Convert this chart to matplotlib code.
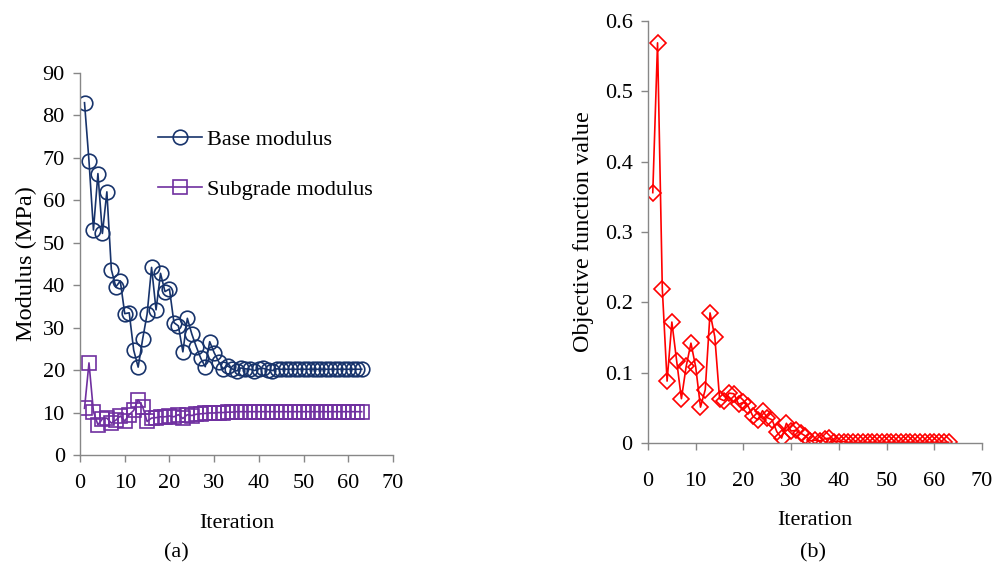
import numpy as np
import matplotlib.pyplot as plt

plt.rcParams['font.family'] = ['Liberation Serif', 'DejaVu Serif']
plt.rcParams['font.size'] = 16

# iterations 1..63
iteration = np.arange(1, 64)

base_modulus = [
    83.0, 69.3, 53.0, 66.3, 52.2, 62.0, 43.7, 39.6, 41.0, 33.3,
    33.5, 24.7, 20.7, 27.3, 33.2, 44.2, 34.2, 42.8, 38.5, 39.1,
    31.2, 30.4, 24.3, 32.2, 28.5, 25.5, 22.8, 20.8, 26.7, 24.1,
    22.0, 20.3, 21.0, 20.3, 19.8, 20.5, 20.3, 20.2, 19.9, 20.3,
    20.4, 20.1, 19.9, 20.3, 20.2, 20.2, 20.2, 20.2, 20.2, 20.2,
    20.2, 20.2, 20.2, 20.2, 20.2, 20.2, 20.2, 20.2, 20.2, 20.2,
    20.2, 20.2, 20.2,
]

subgrade_modulus = [
    11.0, 21.7, 10.2, 7.1, 8.5, 8.7, 7.5, 8.2, 9.2, 8.0,
    9.5, 10.5, 13.0, 11.4, 7.9, 8.7, 8.8, 9.0, 9.0, 9.2,
    9.0, 9.5, 8.6, 9.5, 9.3, 9.6, 9.7, 9.8, 9.9, 9.9,
    10.0, 10.0, 10.1, 10.1, 10.2, 10.2, 10.2, 10.2, 10.2, 10.2,
    10.2, 10.2, 10.2, 10.2, 10.2, 10.2, 10.2, 10.2, 10.2, 10.2,
    10.2, 10.2, 10.2, 10.2, 10.2, 10.2, 10.2, 10.2, 10.2, 10.2,
    10.2, 10.2, 10.2,
]

objective = [
    0.356, 0.569, 0.219, 0.088, 0.172, 0.117, 0.063, 0.109, 0.142, 0.108,
    0.051, 0.076, 0.185, 0.151, 0.063, 0.060, 0.071, 0.070, 0.055, 0.058,
    0.052, 0.038, 0.033, 0.046, 0.036, 0.033, 0.016, 0.007, 0.028, 0.017,
    0.018, 0.014, 0.010, 0.003, 0.004, 0.003, 0.006, 0.007, 0.002, 0.002,
    0.002, 0.001, 0.001, 0.001, 0.001, 0.001, 0.001, 0.001, 0.001, 0.001,
    0.001, 0.001, 0.001, 0.001, 0.001, 0.001, 0.001, 0.001, 0.001, 0.001,
    0.001, 0.001, 0.001,
]

AXIS_GREY = '#878787'


def style_axes(ax):
    for side in ('top', 'right'):
        ax.spines[side].set_visible(False)
    for side in ('left', 'bottom'):
        ax.spines[side].set_color(AXIS_GREY)
        ax.spines[side].set_linewidth(1.0)
    ax.tick_params(direction='out', length=5, width=1.0, color=AXIS_GREY,
                   labelsize=16, pad=6)


fig = plt.figure(figsize=(9.98, 5.65), dpi=100)

# ---- (a) moduli ----
ax1 = fig.add_axes([0.0802, 0.1947, 0.3136, 0.6761])
ax1.plot(iteration, base_modulus, color='#17336b', lw=1.2, marker='o',
         ms=10.5, mfc='none', mec='#17336b', mew=1.2, label='Base modulus')
ax1.plot(iteration, subgrade_modulus, color='#7030a0', lw=1.2, marker='s',
         ms=9.5, mfc='none', mec='#7030a0', mew=1.2, label='Subgrade modulus')
ax1.set_xlim(0, 70)
ax1.set_ylim(0, 90)
ax1.set_xticks(range(0, 71, 10))
ax1.set_yticks(range(0, 91, 10))
ax1.set_xlabel('Iteration', fontsize=16, labelpad=15)
ax1.set_ylabel('Modulus (MPa)', fontsize=17.5, labelpad=4)
style_axes(ax1)
ax1.tick_params(axis='x', pad=9)
ax1.legend(loc='upper left', bbox_to_anchor=(0.22, 0.875), frameon=False,
           fontsize=16, handlelength=2.0, handletextpad=0.2, labelspacing=1.3,
           borderaxespad=0)

# ---- (b) objective function ----
ax2 = fig.add_axes([0.6493, 0.2159, 0.3347, 0.7469])
ax2.plot(iteration, objective, color='#ff0000', lw=1.2, marker='D',
         ms=8.5, mfc='none', mec='#ff0000', mew=1.2)
ax2.set_xlim(0, 70)
ax2.set_ylim(0, 0.6)
ax2.set_xticks(range(0, 71, 10))
ax2.set_yticks(np.arange(0, 0.61, 0.1))
ax2.set_yticklabels(['0', '0.1', '0.2', '0.3', '0.4', '0.5', '0.6'])
ax2.set_xlabel('Iteration', fontsize=16, labelpad=14)
ax2.set_ylabel('Objective function value', fontsize=17.5, labelpad=8)
style_axes(ax2)
ax2.tick_params(axis='x', pad=16)

fig.text(0.1764, 0.005, '(a)', ha='center', va='bottom', fontsize=16)
fig.text(0.8146, 0.005, '(b)', ha='center', va='bottom', fontsize=16)

fig.savefig('out.png', dpi=100)
